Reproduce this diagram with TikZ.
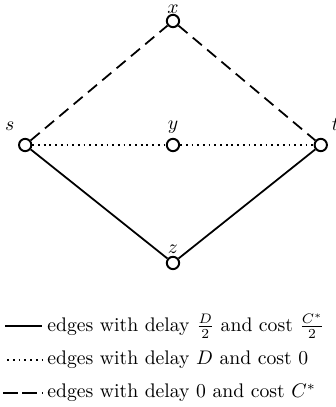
\documentclass[tikz,border=0pt]{standalone}
\usepackage{amsmath,amssymb}
\usepackage{tikz}
\usetikzlibrary{positioning}

\begin{document}
\begin{tikzpicture}[
    vtx/.style={draw,circle,line width=1pt,minimum size=2.2mm,inner sep=0pt,fill=white},
    solidedge/.style={line width=0.9pt},
    dotedge/.style={line width=0.9pt,dotted},
    dashedge/.style={line width=0.9pt,dash pattern=on 6pt off 3.5pt},
    legtext/.style={anchor=west,inner sep=0pt},
    node distance=2.64cm and 2.64cm,on grid
  ]
  \useasboundingbox (-3.09,-4.68) rectangle (2.911,2.59);

  % Vertices
  \node[vtx,label={[label distance=-0.5mm]above:$y$}] (y) {};
  \node[vtx,left=of y,label={[label distance=0.2mm]118:$s$}] (s) {};
  \node[vtx,right=of y,label={[label distance=0.2mm]60:$t$}] (t) {};
  \node[vtx,above=2.215cm of y,label={[label distance=-1.2mm]above:$x$}] (x) {};
  \node[vtx,below=2.107cm of y,label={[label distance=-0.9mm]above:$z$}] (z) {};

  % Edges
  \begin{scope}[on grid=false]
    \draw[dashedge] (s) -- (x);
    \draw[dashedge] (x) -- (t);
    \draw[dotedge] (s) -- (y);
    \draw[dotedge] (y) -- (t);
    \draw[solidedge] (s) -- (z);
    \draw[solidedge] (z) -- (t);
  \end{scope}

  % Legend
  \coordinate (solidA) at (-3.0,-3.233);
  \node[legtext] (solidT) at (-2.25,-3.233) {edges with delay $\frac{D}{2}$ and cost $\frac{C^*}{2}$};
  \draw[solidedge] (solidA) -- ++(0.66,0);

  \coordinate (dotA) at (-2.96,-3.84);
  \node[legtext] (dotT) at (-2.25,-3.84) {edges with delay $D$ and cost $0$};
  \draw[dotedge] (dotA) -- ++(0.66,0);

  \coordinate (dashA) at (-3.036,-4.43);
  \node[legtext] (dashT) at (-2.25,-4.43) {edges with delay $0$ and cost $C^*$};
  \draw[line width=0.9pt,dash pattern=on 7.5pt off 2.4pt] (dashA) -- ++(0.714,0);
\end{tikzpicture}
\end{document}
